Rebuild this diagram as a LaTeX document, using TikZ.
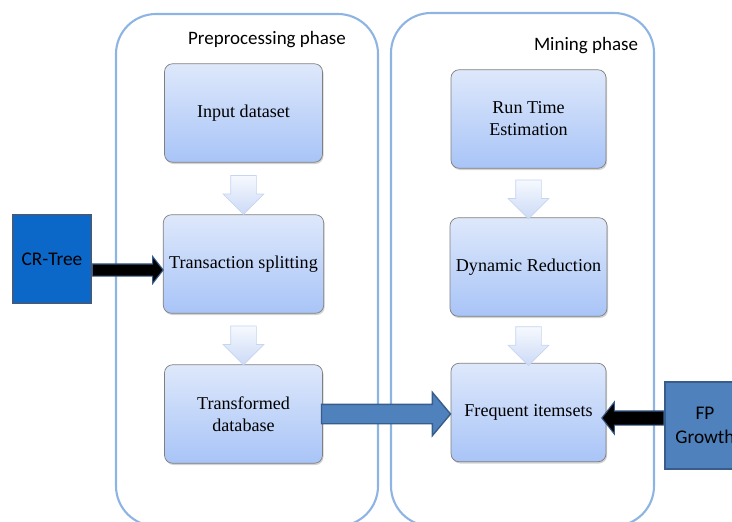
\documentclass[tikz,border=0pt]{standalone}
\usepackage{fontspec}
\setmainfont{Liberation Serif}
\newfontfamily\calibri{Carlito}
\usetikzlibrary{shapes.arrows,shadows,calc}

\definecolor{panelblue}{RGB}{142,180,227}
\definecolor{boxtop}{RGB}{222,232,251}
\definecolor{boxbottom}{RGB}{168,196,247}
\definecolor{boxline}{RGB}{127,127,127}
\definecolor{flowtop}{RGB}{246,249,254}
\definecolor{flowbottom}{RGB}{204,218,247}
\definecolor{flowline}{RGB}{198,213,240}
\definecolor{crblue}{RGB}{12,104,200}
\definecolor{fpblue}{RGB}{79,129,189}
\definecolor{fpline}{RGB}{56,93,138}

\tikzset{
  panel/.style={draw=panelblue, line width=1.2pt, rounded corners=0.8cm},
  phasetitle/.style={font=\calibri\fontsize{10.8}{13}\selectfont},
  procbox/.style={draw=boxline, rounded corners=0.16cm, top color=boxtop,
    bottom color=boxbottom, minimum width=3.16cm, minimum height=1.97cm,
    align=center, font=\fontsize{10.3}{12.5}\selectfont,
    drop shadow={opacity=0.35, shadow xshift=0.6pt, shadow yshift=-1pt}},
  srcbox/.style={draw=fpline, line width=0.8pt, align=center,
    font=\calibri\fontsize{11}{14}\selectfont},
  downarrow/.style={single arrow, shape border rotate=270, draw=flowline,
    top color=flowtop, bottom color=flowbottom, inner sep=0.25cm,
    minimum height=0.78cm, minimum width=0.8cm,
    single arrow head extend=0.15cm, single arrow tip angle=90},
  feedarrow/.style={single arrow, fill=black, draw=fpline, line width=0.6pt,
    single arrow tip angle=104}
}

\begin{document}
\begin{tikzpicture}[x=0.02cm, y=-0.02cm]
\useasboundingbox (0,0) rectangle (732,521);

% two phase panels
\draw[panel] (116,14) rectangle (378,526);
\draw[panel] (391,13) rectangle (654,526);
\node[phasetitle] (pretitle) at (267,40) {Preprocessing phase};
\node[phasetitle] (minetitle) at (586,46) {Mining phase};

% preprocessing steps
\node[procbox] (input) at (243.5,113) {Input dataset};
\node[procbox] (split) at (243.5,264) {Transaction splitting};
\node[procbox] (trans) at (243.5,414) {Transformed\\database};

% mining steps
\node[procbox, minimum width=3.1cm] (runtime) at (528.5,119) {Run Time\\Estimation};
\node[procbox, minimum width=3.1cm] (dynred) at (528.5,267) {Dynamic Reduction};
\node[procbox, minimum width=3.1cm] (freq) at (528.5,412.5) {Frequent itemsets};

\node[downarrow] (flow1) at ($(input.south)!0.5!(split.north)$) {};
\node[downarrow] (flow2) at ($(split.south)!0.5!(trans.north)$) {};
\node[downarrow] (flow3) at ($(runtime.south)!0.5!(dynred.north)$) {};
\node[downarrow] (flow4) at ($(dynred.south)!0.5!(freq.north)$) {};

% outside inputs
\node[srcbox, fill=crblue, minimum width=1.56cm, minimum height=1.76cm] (crtree) at (52,259) {CR-Tree};
\node[srcbox, fill=fpblue, minimum width=1.6cm, minimum height=1.74cm] (fpgrowth) at (705,425.5) {FP\\Growth};

\node[feedarrow, anchor=tail, inner sep=0.11cm, minimum height=1.42cm, minimum width=0.52cm,
  single arrow head extend=0.15cm] (crfeed) at ($(crtree.east)+(0,11)$) {};
\node[feedarrow, anchor=tail, shape border rotate=180, inner sep=0.13cm, minimum height=1.24cm,
  minimum width=0.62cm, single arrow head extend=0.18cm] (fpfeed) at ($(fpgrowth.west)+(0,-7.5)$) {};

% hand over to mining
\node[single arrow, anchor=tail, fill=fpblue, draw=fpline, line width=0.8pt,
  inner sep=0.18cm, minimum height=2.58cm, minimum width=0.84cm,
  single arrow head extend=0.24cm, single arrow tip angle=100] (handover) at ($(trans.east)+(-2,0)$) {};
\end{tikzpicture}
\end{document}
